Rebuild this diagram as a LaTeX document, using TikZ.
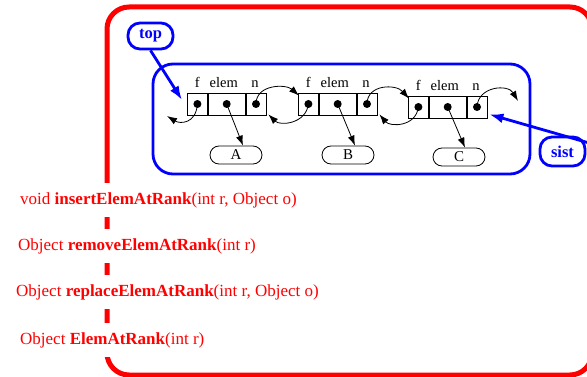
\documentclass[tikz,border=0pt]{standalone}
\usepackage{fontspec}
\setmainfont{Liberation Serif}
\usetikzlibrary{arrows.meta}
\definecolor{myred}{RGB}{255,0,0}
\definecolor{myblue}{RGB}{0,0,255}
\tikzset{
  redframe/.style={draw=myred, line width=5pt, rounded corners=22pt},
  bluebox/.style={draw=myblue, line width=2.8pt, rounded corners=20pt},
  tag/.style={draw=myblue, line width=2.8pt, rounded corners=12pt, text=myblue,
    font=\fontsize{16.5}{18}\selectfont\bfseries, inner sep=0pt},
  bluearrow/.style={draw=myblue, line width=2.8pt, -{Latex[length=14pt,width=10pt]}},
  cell/.style={draw, line width=0.8pt, minimum height=22pt, inner sep=0pt, anchor=west},
  ptr/.style={line width=0.8pt, -{Latex[length=10pt,width=7pt]}},
  pill/.style={draw, line width=0.8pt, rounded corners=9pt, minimum width=52pt,
    minimum height=18pt, inner sep=0pt, font=\fontsize{15}{17}\selectfont},
  lbl/.style={font=\fontsize{14.5}{16}\selectfont, inner sep=0pt, anchor=base},
  method/.style={text=myred, fill=white, font=\fontsize{17}{19}\selectfont,
    anchor=west, inner xsep=2pt, inner ysep=9pt},
  dot/.style={fill=black}
}
\begin{document}
\begin{tikzpicture}[x=1pt,y=-1pt]
\useasboundingbox (0,0) rectangle (587,377);

% outer interface frame
\begin{scope}
  \clip (0,0) rectangle (587,377);
  \draw[redframe] (107,7) rectangle (592,375);
\end{scope}

% list container
\draw[bluebox] (153,64) rectangle (530,174);

% records: f | elem | n
\newcommand{\record}[3]{%
  \node[cell, minimum width=20pt] (f#1) at (#2,#3) {};
  \node[cell, minimum width=37pt] (e#1) at (f#1.east) {};
  \node[cell, minimum width=20pt] (n#1) at (e#1.east) {};
  \fill[dot] (f#1.center) circle (4pt);
  \fill[dot] (e#1.center) circle (4pt);
  \fill[dot] (n#1.center) circle (4pt);
  \node[lbl] (lf#1) at ([shift={(0pt,5pt)}]f#1.north) {f};
  \node[lbl] (le#1) at ([shift={(-3pt,5pt)}]e#1.north) {elem};
  \node[lbl] (ln#1) at ([shift={(-1pt,5pt)}]n#1.north) {n};
}
\record{1}{187}{104}
\record{2}{298}{104}
\record{3}{408}{107}

% elements
\node[pill] (A) at (236,155) {A};
\node[pill] (B) at (348,155) {B};
\node[pill] (C) at (459,157) {C};

\draw[ptr] (e1.center) -- ([xshift=7pt]A.north);
\draw[ptr] (e2.center) -- ([xshift=7pt]B.north);
\draw[ptr] (e3.center) -- ([xshift=6pt]C.north);

% next / prev links
\coordinate (prev) at (167,116);
\coordinate (next) at (518,101);
\draw[ptr] (f1.center) .. controls (196,124) and (180,124) .. (prev);
\draw[ptr] (n1.center) .. controls (256,84) and (286,84) .. ([shift={(1pt,-3pt)}]f2.north west);
\draw[ptr] (f2.center) .. controls (306,124) and (280,126) .. ([shift={(2pt,1pt)}]n1.south east);
\draw[ptr] (n2.center) .. controls (367,84) and (396,84) .. ([shift={(1pt,-3pt)}]f3.north west);
\draw[ptr] (f3.center) .. controls (416,127) and (390,127) .. ([shift={(2pt,1pt)}]n2.south east);
\draw[ptr] (n3.center) .. controls (478,86) and (508,84) .. (next);

% access points
\node[tag, minimum width=45pt, minimum height=26pt] (top) at (150.5,36) {top};
\node[tag, minimum width=45pt, minimum height=29pt] (sist) at (562.5,151.5) {sist};
\draw[bluearrow] (top.south) -- ([shift={(-5pt,4pt)}]f1.west);
\draw[bluearrow] ([shift={(1pt,9pt)}]sist.east) -- ([shift={(2pt,4pt)}]n3.south east);

% operations
\node[method] (m1) at (18,200) {void \textbf{insertElemAtRank}(int r, Object o)};
\node[method] (m2) at (16,246) {Object \textbf{removeElemAtRank}(int r)};
\node[method] (m3) at (14,292) {Object \textbf{replaceElemAtRank}(int r, Object o)};
\node[method] (m4) at (18,340) {Object \textbf{ElemAtRank}(int r)};
\end{tikzpicture}
\end{document}
